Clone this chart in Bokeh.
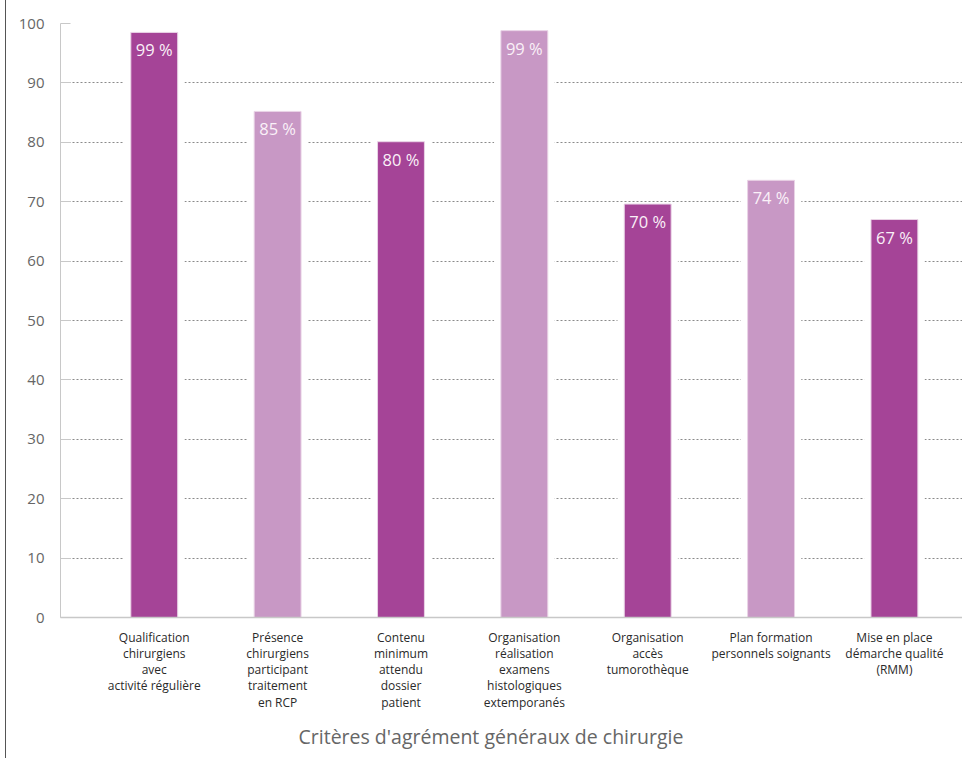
from bokeh.plotting import figure
from bokeh.models import Range1d, FixedTicker, Title, ColumnDataSource
from bokeh.core.properties import value
from bokeh.embed import file_html
from bokeh.resources import INLINE

categories = [
    "Qualification\nchirurgiens\navec\nactivité régulière",
    "Présence\nchirurgiens\nparticipant\ntraitement\nen RCP",
    "Contenu\nminimum\nattendu\ndossier\npatient",
    "Organisation\nréalisation\nexamens\nhistologiques\nextemporanés",
    "Organisation\naccès\ntumorothèque",
    "Plan formation\npersonnels soignants",
    "Mise en place\ndémarche qualité\n(RMM)",
]
values = [98.5, 85.2, 80.1, 98.8, 69.6, 73.6, 67.0]
labels = ["99 %", "85 %", "80 %", "99 %", "70 %", "74 %", "67 %"]
y_ticks = [0, 10, 20, 30, 40, 50, 60, 70, 80, 90, 100]
x_title = "Critères d'agrément généraux de chirurgie"

DARK = "#A54497"
LIGHT = "#C898C5"
colors = [DARK if i % 2 == 0 else LIGHT for i in range(len(values))]
xs = list(range(len(values)))

src = ColumnDataSource(dict(x=xs, top=values, color=colors, label=labels))

p = figure(width=957, height=758, output_backend="svg", toolbar_location=None,
           x_range=Range1d(-0.76, 6.56), y_range=Range1d(0, 100),
           min_border_left=54, min_border_right=0, min_border_top=23, min_border_bottom=141)
p.styles = {"margin-left": "5px", "border-left": "1.5px solid #555555"}
p.outline_line_color = None
p.background_fill_color = "white"
p.border_fill_color = "white"

p.xgrid.grid_line_color = None
p.ygrid.grid_line_color = "#8a8a8a"
p.ygrid.grid_line_dash = "2 2"
p.ygrid.grid_line_width = 1
p.yaxis.ticker = FixedTicker(ticks=y_ticks)

# white halo behind bars (breaks gridlines) then bars
p.vbar(x="x", top="top", bottom=0, width=0.49, source=src, fill_color="white", line_color=None)
p.vbar(x="x", top="top", bottom=0, width=0.38, source=src, fill_color="color",
       line_color="#e9d3e6", line_width=1)

p.text(x="x", y="top", text="label", source=src, text_align="center", text_baseline="top",
       y_offset=6, text_color="#faf1f8", text_font=value("Open Sans"), text_font_size="16.5px")

# y axis
p.yaxis.axis_line_color = "#c8c8c8"
p.yaxis.major_tick_in = 10
p.yaxis.major_tick_out = 0
p.yaxis.major_tick_line_color = "#c8c8c8"
p.yaxis.minor_tick_line_color = None
p.yaxis.major_label_standoff = 16
p.yaxis.major_label_text_color = "#666666"
p.yaxis.major_label_text_font = "Open Sans"
p.yaxis.major_label_text_font_size = "15px"

# x axis
p.xaxis.ticker = FixedTicker(ticks=xs)
p.xaxis.major_label_overrides = {i: c for i, c in enumerate(categories)}
p.xaxis.axis_line_color = "#c8c8c8"
p.xaxis.axis_line_width = 1.5
p.xaxis.major_tick_line_color = None
p.xaxis.minor_tick_line_color = None
p.xaxis.major_label_standoff = 5
p.xaxis.major_label_text_color = "#2a2a2a"
p.xaxis.major_label_text_font = "Open Sans"
p.xaxis.major_label_text_font_size = "12px"
p.xaxis.major_label_text_line_height = 0.96

p.add_layout(Title(text=x_title, align="left", offset=238, standoff=15,
                   text_color="#666666", text_font="Open Sans", text_font_size="19.5px",
                   text_font_style="normal"), "below")

open("out.html", "w").write(file_html(p, INLINE))
